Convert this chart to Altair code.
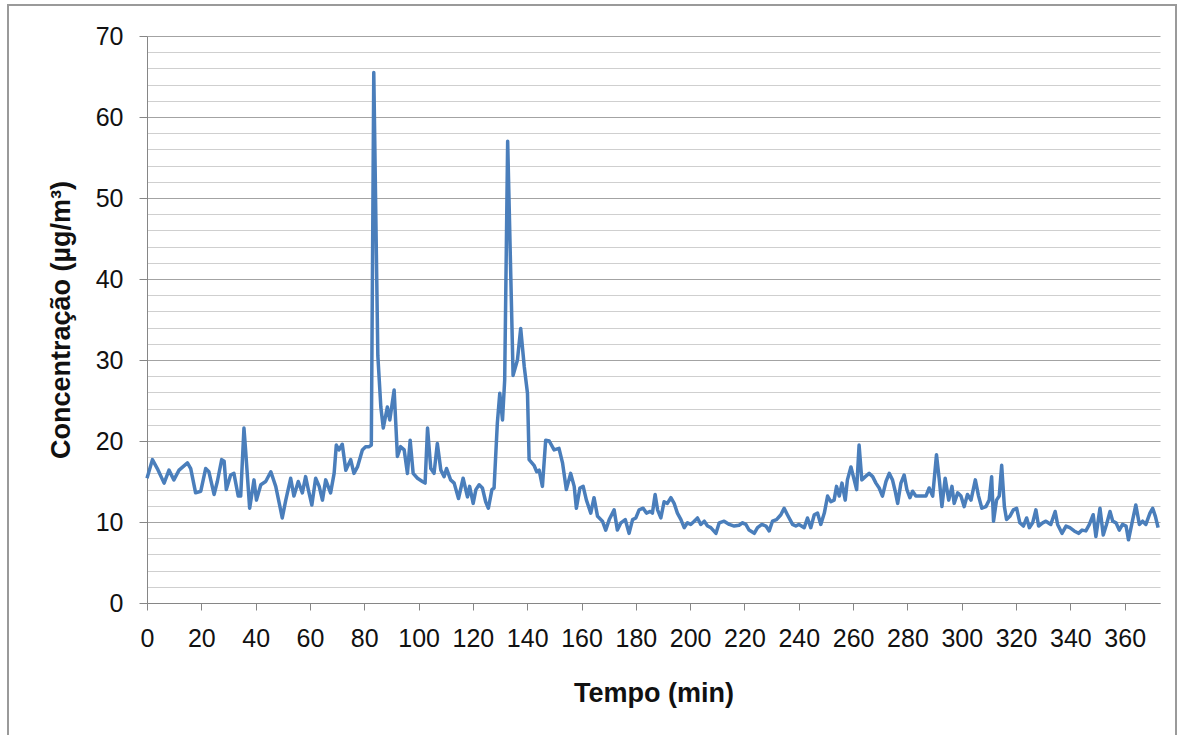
import altair as alt
import pandas as pd

# ---- data (minutes, concentration in µg/m³) ----
t_a = [0, 2, 3.8, 6.3, 8.1, 9.9, 11.8, 14.9, 16.1, 17.9, 19.8, 21.6, 22.8, 24.7, 25.9,
       27.5, 28.4, 29.2, 30.8, 32.0, 33.6, 34.5, 35.7, 36.3, 37.8, 39.4, 40.3, 41.9, 43.7,
       45.6, 47.4, 49.2, 49.8, 51.1, 52.9, 54.1, 55.7, 57.2, 58.4, 59.4, 60.7, 62.1, 63.4,
       64.6, 65.8, 67.6, 68.9, 69.7, 70.7, 71.9]
c_a = [15.4, 17.7, 16.6, 14.8, 16.4, 15.2, 16.4, 17.3, 16.6, 13.6, 13.8, 16.6, 16.2, 13.4, 15.0,
       17.7, 17.5, 14.0, 15.8, 16.0, 13.2, 13.2, 21.6, 18.9, 11.7, 15.2, 12.7, 14.6, 15.0,
       16.2, 14.4, 11.5, 10.5, 12.7, 15.4, 13.2, 15.0, 13.6, 15.6, 14.0, 12.1, 15.4, 14.4,
       12.7, 15.2, 13.6, 16.0, 19.5, 18.9, 19.6]

t_b = [73.2, 75.0, 76.2, 77.5, 79.3, 80.5, 81.8, 82.6, 83.5, 85.0, 86.1, 87.0, 88.5, 89.4,
       91.0, 92.2, 93.4, 94.7, 95.9, 96.9, 98.0, 99.6, 101.4, 102.4, 103.3, 104.5, 105.7,
       106.9, 108.2, 109.4, 110.3, 111.8, 113.1, 114.7, 116.4, 118.0, 118.8, 120.1, 121.1,
       122.3, 123.5, 124.7, 125.7, 127.0, 127.8, 129.0, 129.9, 130.9, 131.7, 132.8, 134.8,
       136.4, 137.6, 138.9, 140.1, 140.7, 142.5, 143.5]
c_b = [16.4, 17.7, 16.0, 16.8, 18.9, 19.3, 19.3, 19.5, 65.5, 30.5, 24.2, 21.6, 24.2, 22.6,
       26.3, 18.1, 19.3, 18.9, 16.0, 20.1, 16.0, 15.4, 15.0, 14.8, 21.6, 16.6, 16.0,
       19.7, 16.4, 15.6, 16.6, 15.2, 14.8, 12.9, 15.4, 13.1, 14.4, 12.3, 14.0,
       14.6, 14.2, 12.5, 11.7, 14.0, 14.2, 22.2, 25.9, 22.6, 27.5, 57.0, 28.1,
       30.0, 33.9, 29.2, 25.9, 17.7, 17.0, 16.2]

t_c = [144.4, 145.6, 146.8, 148.1, 149.9, 151.7, 153.0, 154.4, 156.0, 157.3, 158.1, 159.4,
       160.6, 161.8, 163.4, 164.6, 165.9, 167.7, 168.9, 170.2, 172.0, 173.2, 174.5, 176.1,
       177.5, 178.8, 180.0, 181.2, 182.7, 183.9, 185.3, 186.1, 187.1, 188.0, 189.2, 190.4,
       191.6, 192.9, 194.1, 195.3, 196.6, 197.8, 199.0, 200.2, 201.5, 202.7, 203.9, 205.2,
       206.4, 207.6, 209.5, 210.7, 212.5, 214.4, 216.2, 218.0]
c_c = [16.4, 14.4, 20.1, 20.0, 18.9, 19.1, 17.3, 14.0, 16.0, 14.4, 11.7, 14.2,
       14.4, 12.7, 11.1, 13.0, 10.7, 10.1, 9.0, 10.3, 11.5, 9.0, 9.9, 10.3,
       8.6, 10.3, 10.5, 11.5, 11.7, 11.1, 11.3, 11.1, 13.4, 11.5, 10.5, 12.5,
       12.3, 13.0, 12.3, 11.1, 10.3, 9.3, 9.9, 9.7, 10.1, 10.5, 9.7, 10.1,
       9.5, 9.3, 8.6, 9.9, 10.1, 9.7, 9.5, 9.6]

t_d = [219.3, 220.5, 221.7, 223.6, 224.8, 226.4, 227.9, 229.1, 230.3, 231.8, 233.4, 234.6,
       235.8, 237.7, 238.9, 240.1, 242.0, 243.2, 244.4, 245.7, 246.9, 248.1, 249.4, 250.6,
       251.8, 253.0, 253.9, 254.9, 255.9, 257.1, 257.9, 259.2, 260.4, 261.3, 262.2, 263.2,
       264.5, 265.9, 267.2, 268.4, 269.6, 270.8, 272.1, 273.3, 274.5, 275.5, 276.4, 277.6,
       278.8, 279.8, 280.9, 281.9, 283.1, 285.0, 286.8, 288.0, 289.3, 290.7]
c_d = [9.9, 9.7, 9.0, 8.6, 9.3, 9.7, 9.5, 8.9, 10.1, 10.3, 10.9, 11.7,
       10.9, 9.7, 9.5, 9.7, 9.3, 10.5, 9.3, 10.9, 11.1, 9.7, 11.1, 13.2,
       12.5, 12.7, 14.4, 13.2, 14.8, 12.7, 15.2, 16.8, 15.2, 14.0, 19.5, 15.2,
       15.6, 16.0, 15.6, 14.8, 14.2, 13.2, 15.0, 16.0, 15.2, 13.8, 12.3, 14.8,
       15.8, 14.0, 13.0, 13.8, 13.2, 13.2, 13.2, 14.2, 13.2, 18.3]

t_e = [291.8, 292.7, 293.9, 295.2, 296.4, 297.2, 298.5, 299.7, 300.9, 302.1, 303.4, 305.0,
       306.2, 307.4, 308.9, 310.1, 311.0, 311.7, 312.8, 313.8, 314.7, 315.7, 316.5, 317.7,
       319.0, 320.2, 321.4, 322.7, 323.9, 324.9, 326.1, 327.3, 328.3, 329.8, 331.0, 332.8,
       334.4, 335.3, 336.9, 338.4, 339.8, 341.4, 343.0, 344.3, 345.7, 347.0, 348.4, 349.4,
       350.9, 352.1, 353.3, 354.6, 355.6, 356.8, 358.0, 359.2, 360.5, 361.4, 362.7, 364.1,
       365.4, 366.6, 367.8, 369.3, 370.3, 371.3, 372.3]
c_e = [15.0, 11.9, 15.4, 12.7, 14.4, 12.3, 13.6, 13.2, 11.9, 13.4, 12.7, 15.2,
       13.2, 11.7, 11.9, 12.7, 15.6, 10.1, 12.7, 13.2, 17.0, 11.9, 10.3, 10.7,
       11.5, 11.7, 9.9, 9.5, 10.5, 9.3, 9.9, 11.5, 9.5, 9.9, 10.1, 9.7,
       11.3, 9.7, 8.6, 9.5, 9.3, 8.9, 8.6, 9.0, 8.9, 9.7, 10.9, 8.2,
       11.7, 8.4, 9.7, 11.3, 10.1, 9.9, 9.0, 9.7, 9.5, 7.8, 9.9, 12.1,
       9.7, 10.1, 9.7, 11.1, 11.7, 10.7, 9.3]

x_ticks = list(range(0, 361, 20))
y_grid = list(range(0, 71, 2))

df = pd.DataFrame({
    "Tempo": t_a + t_b + t_c + t_d + t_e,
    "Conc": c_a + c_b + c_c + c_d + c_e,
})

FONT = "Liberation Sans"
AXIS_GRAY = "#868686"

line = alt.Chart(df).mark_line(color="#4A7EBB", strokeWidth=3.5, strokeJoin="round").encode(
    x=alt.X(
        "Tempo:Q",
        scale=alt.Scale(domain=[0, 373], nice=False, zero=True),
        axis=alt.Axis(
            values=x_ticks, title="Tempo (min)", grid=False,
            domainColor=AXIS_GRAY, tickColor=AXIS_GRAY, tickSize=7,
            labelFont=FONT, labelFontSize=25, labelColor="#111111",
            labelPadding=16, labelFlush=False, labelOverlap=False,
            titleFont=FONT, titleFontSize=27, titleFontWeight="bold",
            titleColor="#111111", titlePadding=29,
        ),
    ),
    y=alt.Y(
        "Conc:Q",
        scale=alt.Scale(domain=[0, 70], nice=False),
        axis=alt.Axis(
            values=y_grid, title="Concentração (µg/m³)",
            labelExpr="datum.value % 10 === 0 ? datum.label : ''",
            gridColor={"condition": {"test": "datum.value % 10 === 0", "value": "#a3a3a3"},
                       "value": "#cfcfcf"},
            gridWidth=1,
            tickColor={"condition": {"test": "datum.value % 10 === 0", "value": AXIS_GRAY},
                       "value": "transparent"},
            tickSize=8, domainColor=AXIS_GRAY,
            labelFont=FONT, labelFontSize=25, labelColor="#111111",
            labelPadding=16, labelFlush=False, labelOverlap=False,
            titleFont=FONT, titleFontSize=27, titleFontWeight="bold",
            titleColor="#111111", titlePadding=20,
        ),
    ),
)

frame = alt.Chart(pd.DataFrame({"k": [0]})).mark_rect(
    filled=False, stroke="#9a9a9a", strokeWidth=2
).encode(
    x=alt.value(-139), x2=alt.value(1029), y=alt.value(-31), y2=alt.value(720)
)

chart = alt.layer(frame, line).properties(
    width=1013,
    height=567,
    autosize=alt.AutoSizeParams(type="none"),
    padding={"left": 147, "top": 36, "right": 27, "bottom": 132},
    background="white",
).configure_view(strokeWidth=0)

chart.save("out.html", embed_options={"renderer": "svg", "actions": False})
